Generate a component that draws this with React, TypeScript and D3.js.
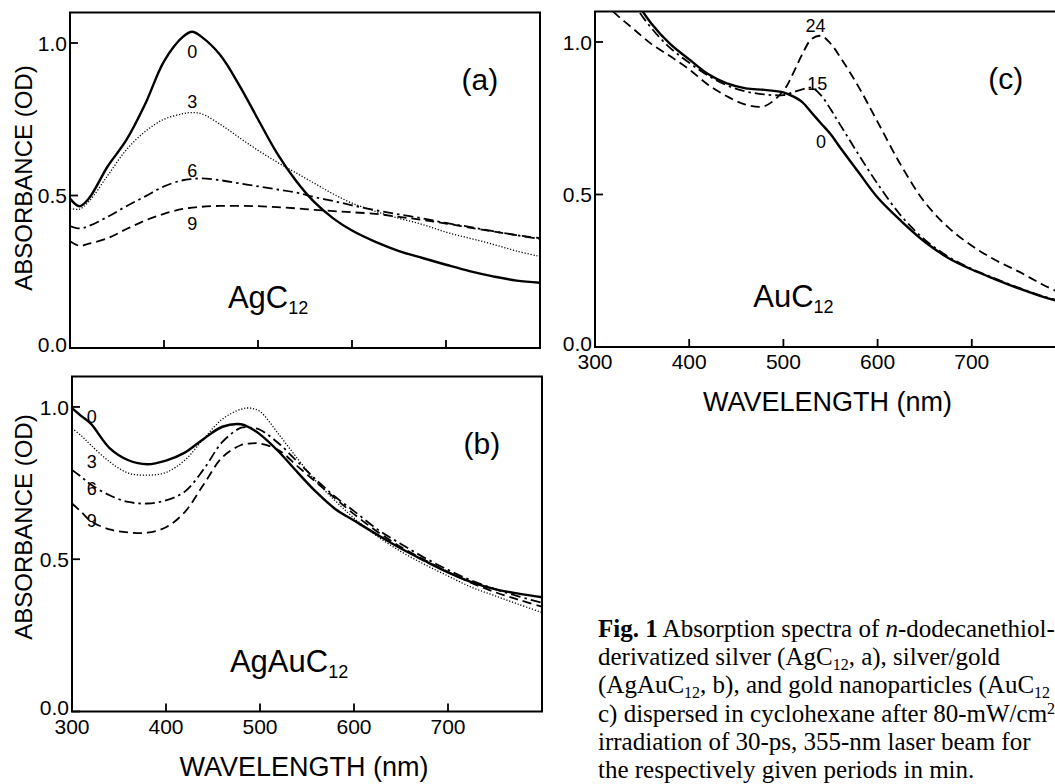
import React from "react";
import * as d3 from "d3";

// wavelength grids (nm) and absorbance (OD)
const WL_A = [300, 310, 320, 340, 360, 380, 400, 420, 430, 440, 460, 480, 500, 520, 540, 560, 580, 600, 625, 650, 675, 700, 725, 750, 775, 800];
const AGC_0 = [0.49, 0.465, 0.49, 0.595, 0.682, 0.8, 0.94, 1.02, 1.037, 1.02, 0.96, 0.862, 0.75, 0.64, 0.55, 0.478, 0.425, 0.385, 0.348, 0.318, 0.295, 0.273, 0.252, 0.235, 0.221, 0.214];
const AGC_3 = [0.458, 0.455, 0.48, 0.565, 0.65, 0.71, 0.75, 0.768, 0.772, 0.768, 0.733, 0.69, 0.648, 0.61, 0.575, 0.54, 0.505, 0.475, 0.448, 0.425, 0.405, 0.38, 0.36, 0.34, 0.318, 0.3];
const AGC_6 = [0.4, 0.392, 0.4, 0.43, 0.465, 0.497, 0.53, 0.55, 0.554, 0.556, 0.55, 0.54, 0.53, 0.52, 0.51, 0.495, 0.482, 0.468, 0.452, 0.438, 0.425, 0.41, 0.397, 0.383, 0.37, 0.357];
const AGC_9 = [0.35, 0.335, 0.342, 0.36, 0.39, 0.418, 0.44, 0.456, 0.46, 0.463, 0.466, 0.466, 0.465, 0.462, 0.458, 0.453, 0.449, 0.445, 0.44, 0.43, 0.42, 0.408, 0.395, 0.382, 0.37, 0.36];

const WL_B = [300, 310, 320, 340, 360, 380, 400, 420, 440, 460, 480, 490, 500, 520, 540, 560, 580, 600, 625, 650, 675, 700, 725, 750, 775, 800];
const AGAU_0 = [0.996, 0.97, 0.945, 0.865, 0.825, 0.812, 0.824, 0.85, 0.895, 0.935, 0.943, 0.93, 0.91, 0.853, 0.785, 0.72, 0.665, 0.627, 0.58, 0.535, 0.495, 0.457, 0.425, 0.402, 0.387, 0.375];
const AGAU_3 = [0.93, 0.905, 0.875, 0.82, 0.783, 0.776, 0.785, 0.825, 0.895, 0.96, 0.993, 0.996, 0.985, 0.91, 0.83, 0.755, 0.692, 0.635, 0.575, 0.525, 0.483, 0.445, 0.408, 0.38, 0.352, 0.325];
const AGAU_6 = [0.793, 0.77, 0.745, 0.71, 0.688, 0.683, 0.693, 0.722, 0.795, 0.885, 0.932, 0.932, 0.925, 0.88, 0.82, 0.76, 0.705, 0.658, 0.598, 0.55, 0.505, 0.465, 0.43, 0.402, 0.378, 0.357];
const AGAU_9 = [0.683, 0.655, 0.625, 0.598, 0.588, 0.587, 0.605, 0.655, 0.745, 0.835, 0.875, 0.88, 0.88, 0.858, 0.805, 0.752, 0.7, 0.648, 0.59, 0.54, 0.498, 0.458, 0.422, 0.392, 0.367, 0.344];

const WL_C = [300, 320, 340, 360, 380, 400, 420, 440, 460, 480, 500, 510, 520, 530, 540, 550, 560, 580, 600, 625, 650, 675, 700, 725, 750, 775, 800];
const AU_0 = [1.34, 1.25, 1.15, 1.06, 0.993, 0.943, 0.895, 0.864, 0.848, 0.843, 0.835, 0.822, 0.803, 0.768, 0.733, 0.698, 0.655, 0.572, 0.49, 0.413, 0.345, 0.292, 0.254, 0.222, 0.192, 0.165, 0.143];
const AU_15 = [1.32, 1.23, 1.13, 1.045, 0.98, 0.932, 0.89, 0.858, 0.838, 0.828, 0.826, 0.835, 0.845, 0.85, 0.825, 0.78, 0.73, 0.63, 0.535, 0.43, 0.352, 0.296, 0.256, 0.224, 0.194, 0.167, 0.145];
const AU_24 = [1.17, 1.098, 1.045, 0.993, 0.953, 0.91, 0.86, 0.822, 0.795, 0.79, 0.84, 0.895, 0.96, 1.01, 1.02, 0.995, 0.952, 0.852, 0.738, 0.595, 0.475, 0.392, 0.332, 0.285, 0.247, 0.205, 0.168];

const X_TICKS = [300, 400, 500, 600, 700, 800];
const Y_TICKS = [0, 0.5, 1.0];

const SANS = "'Liberation Sans', Arial, sans-serif";
const SERIF = "'Liberation Serif', 'Times New Roman', serif";

const STYLES: Record<string, { w: number; dash?: string }> = {
  solid: { w: 2.4 },
  dotted: { w: 1.3, dash: "1.2,1.8" },
  dashdot: { w: 1.8, dash: "10,4,2.5,4" },
  dashed: { w: 1.8, dash: "9,5" },
};

const PANELS = [
  {
    key: "a",
    box: { left: 70, right: 540, top: 12.5, bottom: 348 },
    wl: WL_A,
    series: [
      { v: AGC_0, s: "solid" },
      { v: AGC_3, s: "dotted" },
      { v: AGC_6, s: "dashdot" },
      { v: AGC_9, s: "dashed" },
    ],
    // curve labels placed in data coords (nm, OD)
    labels: [["0", 430, 0.951], ["3", 430, 0.787], ["6", 430, 0.561], ["9", 430, 0.387]],
    name: "AgC",
    xLabels: false,
    yTitle: 178,
  },
  {
    key: "b",
    box: { left: 72, right: 542, top: 376.5, bottom: 711.5 },
    wl: WL_B,
    series: [
      { v: AGAU_0, s: "solid" },
      { v: AGAU_3, s: "dotted" },
      { v: AGAU_6, s: "dashdot" },
      { v: AGAU_9, s: "dashed" },
    ],
    labels: [["0", 321, 0.947], ["3", 321, 0.8], ["6", 321, 0.711], ["9", 321, 0.606]],
    name: "AgAuC",
    xLabels: true,
    yTitle: 527,
  },
  {
    key: "c",
    box: { left: 595, right: 1066, top: 11.5, bottom: 347 },
    wl: WL_C,
    series: [
      { v: AU_0, s: "solid" },
      { v: AU_15, s: "dashdot" },
      { v: AU_24, s: "dashed" },
    ],
    labels: [["24", 534, 1.033], ["15", 536, 0.843], ["0", 540, 0.652]],
    name: "AuC",
    xLabels: true,
    yTitle: null,
  },
];

function Panel({ p }: { p: any }) {
  const { box, wl } = p;
  const x = d3.scaleLinear().domain([300, 800]).range([box.left, box.right]);
  const y = d3.scaleLinear().domain([0, 1.1]).range([box.bottom, box.top]);
  const line = d3
    .line<number>()
    .x((_, i) => x(wl[i]))
    .y((d) => y(d))
    .curve(d3.curveCatmullRom.alpha(0.5));
  const clip = `clip-${p.key}`;
  const midX = (box.left + box.right) / 2;

  return (
    <g>
      <defs>
        <clipPath id={clip}>
          <rect x={box.left} y={box.top} width={box.right - box.left} height={box.bottom - box.top} />
        </clipPath>
      </defs>
      <g clipPath={`url(#${clip})`}>
        {p.series.map((s: any, i: number) => (
          <path
            key={i}
            d={line(s.v) || ""}
            fill="none"
            stroke="#000"
            strokeWidth={STYLES[s.s].w}
            strokeDasharray={STYLES[s.s].dash}
            strokeLinejoin="round"
          />
        ))}
      </g>
      <rect
        x={box.left}
        y={box.top}
        width={box.right - box.left}
        height={box.bottom - box.top}
        fill="none"
        stroke="#000"
        strokeWidth={2}
      />
      {X_TICKS.filter((t) => t > 300 && t < 800).map((t) => (
        <line key={t} x1={x(t)} x2={x(t)} y1={box.bottom} y2={box.bottom - 8} stroke="#000" strokeWidth={1.8} />
      ))}
      {Y_TICKS.map((t) => (
        <g key={t}>
          <line x1={box.left} x2={box.left + 8} y1={y(t)} y2={y(t)} stroke="#000" strokeWidth={1.8} />
          <text
            x={box.left - 3}
            y={y(t) - (t === 0 ? 4 : 0)}
            dy="0.36em"
            textAnchor="end"
            fontSize={21}
            fontFamily={SANS}
          >
            {t.toFixed(1)}
          </text>
        </g>
      ))}
      {p.xLabels &&
        X_TICKS.filter((t) => t < 800).map((t) => (
          <text key={t} x={x(t)} y={box.bottom + 22} textAnchor="middle" fontSize={21} fontFamily={SANS}>
            {t}
          </text>
        ))}
      {p.xLabels && (
        <text x={midX - 3} y={box.bottom + 64} textAnchor="middle" fontSize={27} fontFamily={SANS}>
          WAVELENGTH (nm)
        </text>
      )}
      {p.yTitle != null && (
        <text
          transform={`translate(32,${p.yTitle}) rotate(-90)`}
          textAnchor="middle"
          fontSize={24}
          fontFamily={SANS}
        >
          ABSORBANCE (OD)
        </text>
      )}
      {p.labels.map(([t, lx, ly]: any) => (
        <text key={t} x={x(lx)} y={y(ly)} textAnchor="middle" fontSize={18} fontFamily={SANS}>
          {t}
        </text>
      ))}
      <text x={x(736)} y={y(0.845)} textAnchor="middle" fontSize={30} fontFamily={SANS}>
        ({p.key})
      </text>
      <text x={x(468)} y={y(0.13)} fontSize={31} fontFamily={SANS}>
        {p.name}
        <tspan fontSize={18} dy={6}>12</tspan>
      </text>
    </g>
  );
}

const CAPTION_X = 598;
const CAPTION_Y = 637;
const CAPTION_LH = 28.2;

function Caption() {
  const ln = (i: number) => CAPTION_Y + i * CAPTION_LH;
  return (
    <g fontFamily={SERIF} fontSize={25} fill="#000">
      <text x={CAPTION_X} y={ln(0)}>
        <tspan fontWeight="bold">Fig. 1</tspan> Absorption spectra of <tspan fontStyle="italic">n</tspan>-dodecanethiol-
      </text>
      <text x={CAPTION_X} y={ln(1)}>
        derivatized silver (AgC<tspan fontSize={16} dy={5}>12</tspan>
        <tspan dy={-5}>, a), silver/gold</tspan>
      </text>
      <text x={CAPTION_X} y={ln(2)}>
        (AgAuC<tspan fontSize={16} dy={5}>12</tspan>
        <tspan dy={-5}>, b), and gold nanoparticles (AuC</tspan>
        <tspan fontSize={16} dy={5}>12</tspan>
      </text>
      <text x={CAPTION_X} y={ln(3)}>
        c) dispersed in cyclohexane after 80-mW/cm
        <tspan fontSize={16} dy={-8}>2</tspan>
      </text>
      <text x={CAPTION_X} y={ln(4)}>
        irradiation of 30-ps, 355-nm laser beam for
      </text>
      <text x={CAPTION_X} y={ln(5)}>
        the respectively given periods in min.
      </text>
    </g>
  );
}

export default function App() {
  return (
    <svg
      width={1055}
      height={784}
      style={{ position: "absolute", left: 0, top: 0, background: "#fff", display: "block" }}
    >
      <rect width={1055} height={784} fill="#fff" />
      {PANELS.map((p) => (
        <Panel key={p.key} p={p} />
      ))}
      <Caption />
    </svg>
  );
}
